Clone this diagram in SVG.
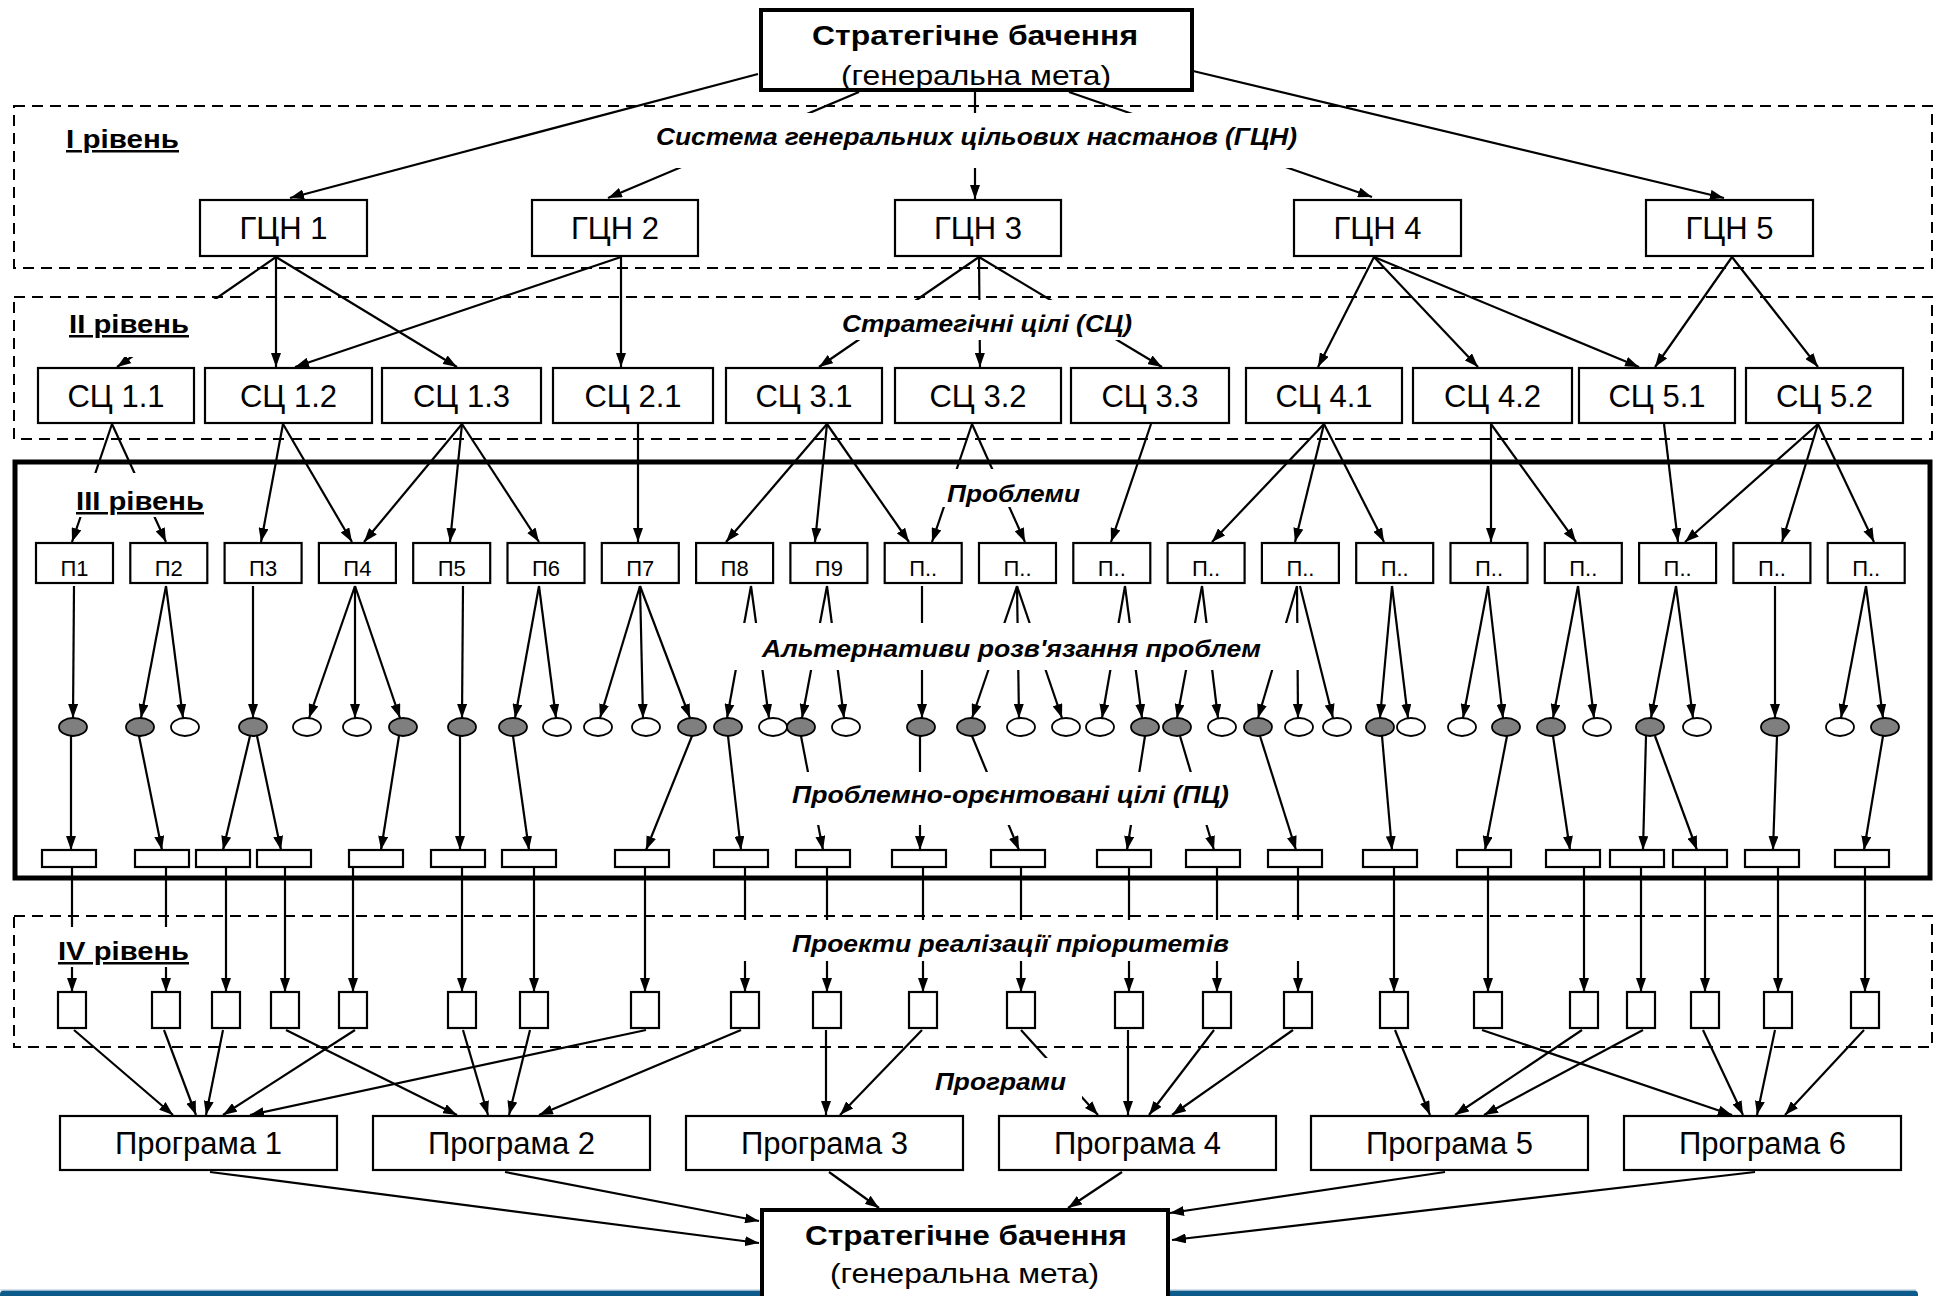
<svg xmlns="http://www.w3.org/2000/svg" width="1934" height="1296" viewBox="0 0 1934 1296">
<defs>
<style>
.t{font-family:"Liberation Sans",Arial,sans-serif;fill:#000}
.bx{fill:#fff;stroke:#000;stroke-width:2.2}
.tb{fill:#fff;stroke:#000;stroke-width:4}
.n{font-size:31px;text-anchor:middle}
.p{font-size:22px;text-anchor:middle}
.lv{font-size:25px;font-weight:bold;text-decoration:underline}
.it{font-size:24px;font-weight:bold;font-style:italic}
.dash{fill:none;stroke:#000;stroke-width:2;stroke-dasharray:11 7}
.c line{stroke:#000;stroke-width:2.2;marker-end:url(#ah)}
.g{fill:#7f7f7f;stroke:#000;stroke-width:1.8}
.w{fill:#fff;stroke:#000;stroke-width:1.8}
.m{fill:#fff;stroke:none}
</style>
<marker id="ah" viewBox="0 0 14 10" refX="14" refY="5" markerWidth="14" markerHeight="10" markerUnits="userSpaceOnUse" orient="auto"><path d="M0,0 L14,5 L0,10 z" fill="#000"/></marker>
</defs>
<rect width="1934" height="1296" fill="#fff"/>
<g id="footer">
<rect x="0" y="1290.5" width="1918" height="10" rx="4" fill="#0d5b8a"/>
<line x1="0" y1="1290" x2="1916" y2="1290" stroke="#a9c3d5" stroke-width="1"/>
</g>
<g id="containers">
<rect class="dash" x="14" y="106" width="1918" height="162"/>
<rect class="dash" x="14" y="297" width="1918" height="142"/>
<rect x="15" y="462" width="1915" height="416" fill="none" stroke="#000" stroke-width="5"/>
<rect class="dash" x="14" y="916" width="1918" height="131"/>
</g>
<g id="connectors" class="c">
<line x1="758" y1="74" x2="290" y2="198"/>
<line x1="859" y1="92" x2="608" y2="198"/>
<line x1="975" y1="92" x2="975" y2="199"/>
<line x1="1069" y1="92" x2="1372" y2="197"/>
<line x1="1193" y1="71" x2="1724" y2="198"/>
<line x1="276" y1="257" x2="117" y2="367"/>
<line x1="276" y1="257" x2="276" y2="367"/>
<line x1="276" y1="257" x2="457" y2="367"/>
<line x1="621" y1="257" x2="295" y2="367"/>
<line x1="621" y1="257" x2="621" y2="367"/>
<line x1="979" y1="257" x2="819" y2="367"/>
<line x1="979" y1="257" x2="980" y2="367"/>
<line x1="979" y1="257" x2="1162" y2="367"/>
<line x1="1374" y1="257" x2="1318" y2="367"/>
<line x1="1374" y1="257" x2="1478" y2="367"/>
<line x1="1374" y1="257" x2="1639" y2="367"/>
<line x1="1732" y1="257" x2="1655" y2="367"/>
<line x1="1732" y1="257" x2="1818" y2="367"/>
<line x1="112" y1="424" x2="72" y2="542"/>
<line x1="112" y1="424" x2="166" y2="542"/>
<line x1="283" y1="424" x2="261" y2="542"/>
<line x1="283" y1="424" x2="352" y2="542"/>
<line x1="462" y1="424" x2="364" y2="542"/>
<line x1="462" y1="424" x2="450" y2="542"/>
<line x1="462" y1="424" x2="539" y2="542"/>
<line x1="638" y1="424" x2="638" y2="542"/>
<line x1="827" y1="424" x2="726" y2="542"/>
<line x1="827" y1="424" x2="815" y2="542"/>
<line x1="827" y1="424" x2="909" y2="542"/>
<line x1="972" y1="424" x2="932" y2="542"/>
<line x1="972" y1="424" x2="1025" y2="542"/>
<line x1="1151" y1="424" x2="1111" y2="542"/>
<line x1="1324" y1="424" x2="1212" y2="542"/>
<line x1="1324" y1="424" x2="1295" y2="542"/>
<line x1="1324" y1="424" x2="1384" y2="542"/>
<line x1="1491" y1="424" x2="1491" y2="542"/>
<line x1="1491" y1="424" x2="1576" y2="542"/>
<line x1="1664" y1="424" x2="1678" y2="542"/>
<line x1="1818" y1="424" x2="1685" y2="542"/>
<line x1="1818" y1="424" x2="1782" y2="542"/>
<line x1="1818" y1="424" x2="1874" y2="542"/>
<line x1="74" y1="586" x2="73" y2="718"/>
<line x1="166" y1="586" x2="141" y2="718"/>
<line x1="166" y1="586" x2="183" y2="718"/>
<line x1="253" y1="586" x2="253" y2="718"/>
<line x1="355" y1="586" x2="309" y2="718"/>
<line x1="355" y1="586" x2="355" y2="718"/>
<line x1="355" y1="586" x2="400" y2="718"/>
<line x1="463" y1="586" x2="462" y2="718"/>
<line x1="539" y1="586" x2="515" y2="718"/>
<line x1="539" y1="586" x2="556" y2="718"/>
<line x1="640" y1="586" x2="600" y2="718"/>
<line x1="640" y1="586" x2="643" y2="718"/>
<line x1="640" y1="586" x2="690" y2="718"/>
<line x1="751" y1="586" x2="727" y2="718"/>
<line x1="751" y1="586" x2="769" y2="718"/>
<line x1="827" y1="586" x2="802" y2="718"/>
<line x1="827" y1="586" x2="844" y2="718"/>
<line x1="922" y1="586" x2="922" y2="718"/>
<line x1="1017" y1="586" x2="972" y2="718"/>
<line x1="1017" y1="586" x2="1019" y2="718"/>
<line x1="1017" y1="586" x2="1062" y2="718"/>
<line x1="1125" y1="586" x2="1102" y2="718"/>
<line x1="1125" y1="586" x2="1142" y2="718"/>
<line x1="1202" y1="586" x2="1177" y2="718"/>
<line x1="1202" y1="586" x2="1218" y2="718"/>
<line x1="1297" y1="586" x2="1258" y2="718"/>
<line x1="1297" y1="586" x2="1298" y2="718"/>
<line x1="1300" y1="586" x2="1333" y2="718"/>
<line x1="1392" y1="586" x2="1380" y2="718"/>
<line x1="1392" y1="586" x2="1408" y2="718"/>
<line x1="1488" y1="586" x2="1463" y2="718"/>
<line x1="1488" y1="586" x2="1503" y2="718"/>
<line x1="1578" y1="586" x2="1553" y2="718"/>
<line x1="1578" y1="586" x2="1594" y2="718"/>
<line x1="1676" y1="586" x2="1651" y2="718"/>
<line x1="1676" y1="586" x2="1693" y2="718"/>
<line x1="1775" y1="586" x2="1775" y2="718"/>
<line x1="1866" y1="586" x2="1841" y2="718"/>
<line x1="1866" y1="586" x2="1883" y2="718"/>
<line x1="71" y1="736" x2="71" y2="850"/>
<line x1="139" y1="736" x2="162" y2="850"/>
<line x1="250" y1="736" x2="223" y2="850"/>
<line x1="257" y1="736" x2="281" y2="850"/>
<line x1="399" y1="736" x2="381" y2="850"/>
<line x1="460" y1="736" x2="460" y2="850"/>
<line x1="513" y1="736" x2="529" y2="850"/>
<line x1="692" y1="736" x2="646" y2="850"/>
<line x1="728" y1="736" x2="741" y2="850"/>
<line x1="801" y1="736" x2="823" y2="850"/>
<line x1="920" y1="736" x2="920" y2="850"/>
<line x1="972" y1="736" x2="1019" y2="850"/>
<line x1="1145" y1="736" x2="1127" y2="850"/>
<line x1="1180" y1="736" x2="1214" y2="850"/>
<line x1="1260" y1="736" x2="1296" y2="850"/>
<line x1="1382" y1="736" x2="1392" y2="850"/>
<line x1="1507" y1="736" x2="1485" y2="850"/>
<line x1="1553" y1="736" x2="1570" y2="850"/>
<line x1="1646" y1="736" x2="1643" y2="850"/>
<line x1="1655" y1="736" x2="1697" y2="850"/>
<line x1="1777" y1="736" x2="1773" y2="850"/>
<line x1="1883" y1="736" x2="1864" y2="850"/>
<line x1="72" y1="867" x2="72" y2="992"/>
<line x1="166" y1="867" x2="166" y2="992"/>
<line x1="226" y1="867" x2="226" y2="992"/>
<line x1="285" y1="867" x2="285" y2="992"/>
<line x1="353" y1="867" x2="353" y2="992"/>
<line x1="462" y1="867" x2="462" y2="992"/>
<line x1="534" y1="867" x2="534" y2="992"/>
<line x1="645" y1="867" x2="645" y2="992"/>
<line x1="745" y1="867" x2="745" y2="992"/>
<line x1="827" y1="867" x2="827" y2="992"/>
<line x1="923" y1="867" x2="923" y2="992"/>
<line x1="1021" y1="867" x2="1021" y2="992"/>
<line x1="1129" y1="867" x2="1129" y2="992"/>
<line x1="1217" y1="867" x2="1217" y2="992"/>
<line x1="1298" y1="867" x2="1298" y2="992"/>
<line x1="1394" y1="867" x2="1394" y2="992"/>
<line x1="1488" y1="867" x2="1488" y2="992"/>
<line x1="1584" y1="867" x2="1584" y2="992"/>
<line x1="1641" y1="867" x2="1641" y2="992"/>
<line x1="1705" y1="867" x2="1705" y2="992"/>
<line x1="1778" y1="867" x2="1778" y2="992"/>
<line x1="1865" y1="867" x2="1865" y2="992"/>
<line x1="74" y1="1030" x2="173" y2="1115"/>
<line x1="164" y1="1030" x2="196" y2="1115"/>
<line x1="223" y1="1030" x2="206" y2="1115"/>
<line x1="286" y1="1030" x2="457" y2="1115"/>
<line x1="355" y1="1030" x2="223" y2="1115"/>
<line x1="463" y1="1030" x2="488" y2="1115"/>
<line x1="530" y1="1030" x2="509" y2="1115"/>
<line x1="646" y1="1030" x2="250" y2="1115"/>
<line x1="741" y1="1030" x2="539" y2="1115"/>
<line x1="826" y1="1030" x2="826" y2="1115"/>
<line x1="922" y1="1030" x2="840" y2="1115"/>
<line x1="1021" y1="1030" x2="1098" y2="1115"/>
<line x1="1128" y1="1030" x2="1128" y2="1115"/>
<line x1="1214" y1="1030" x2="1149" y2="1115"/>
<line x1="1293" y1="1030" x2="1172" y2="1115"/>
<line x1="1395" y1="1030" x2="1430" y2="1115"/>
<line x1="1482" y1="1030" x2="1732" y2="1115"/>
<line x1="1582" y1="1030" x2="1455" y2="1115"/>
<line x1="1643" y1="1030" x2="1484" y2="1115"/>
<line x1="1703" y1="1030" x2="1743" y2="1115"/>
<line x1="1775" y1="1030" x2="1757" y2="1115"/>
<line x1="1864" y1="1030" x2="1785" y2="1115"/>
<line x1="210" y1="1172" x2="759" y2="1243"/>
<line x1="505" y1="1172" x2="759" y2="1221"/>
<line x1="829" y1="1172" x2="879" y2="1208"/>
<line x1="1122" y1="1172" x2="1068" y2="1208"/>
<line x1="1445" y1="1172" x2="1170" y2="1213"/>
<line x1="1755" y1="1172" x2="1172" y2="1240"/>
</g>
<g id="labels">
<rect class="m" x="648" y="113" width="658" height="55"/>
<rect class="m" x="40" y="299" width="186" height="58"/>
<rect class="m" x="835" y="300" width="315" height="40"/>
<rect class="m" x="60" y="473" width="165" height="44"/>
<rect class="m" x="938" y="469" width="150" height="38"/>
<rect class="m" x="728" y="623" width="578" height="47"/>
<rect class="m" x="760" y="772" width="492" height="53"/>
<rect class="m" x="45" y="927" width="160" height="40"/>
<rect class="m" x="700" y="920" width="630" height="41"/>
<rect class="m" x="930" y="1058" width="152" height="42"/>
<text class="t lv" x="66" y="148" textLength="113" lengthAdjust="spacingAndGlyphs">I рівень</text>
<text class="t lv" x="69" y="333" textLength="120" lengthAdjust="spacingAndGlyphs">II рівень</text>
<text class="t lv" x="76" y="510" textLength="128" lengthAdjust="spacingAndGlyphs">III рівень</text>
<text class="t lv" x="58" y="960" textLength="131" lengthAdjust="spacingAndGlyphs">IV рівень</text>
<text class="t it" x="656" y="145" textLength="641" lengthAdjust="spacingAndGlyphs">Система генеральних цільових настанов (ГЦН)</text>
<text class="t it" x="842" y="332" textLength="290" lengthAdjust="spacingAndGlyphs">Стратегічні цілі (СЦ)</text>
<text class="t it" x="947" y="502" textLength="133" lengthAdjust="spacingAndGlyphs">Проблеми</text>
<text class="t it" x="762" y="657" textLength="499" lengthAdjust="spacingAndGlyphs">Альтернативи розв'язання проблем</text>
<text class="t it" x="792" y="803" textLength="437" lengthAdjust="spacingAndGlyphs">Проблемно-орєнтовані цілі (ПЦ)</text>
<text class="t it" x="792" y="952" textLength="437" lengthAdjust="spacingAndGlyphs">Проекти реалізації пріоритетів</text>
<text class="t it" x="935" y="1090" textLength="131" lengthAdjust="spacingAndGlyphs">Програми</text>
</g>
<g id="vision-top">
<rect class="tb" x="761" y="10" width="431" height="80"/>
<text class="t" x="812" y="45" font-size="28" font-weight="bold" textLength="326" lengthAdjust="spacingAndGlyphs">Стратегічне бачення</text>
<text class="t" x="841" y="85" font-size="28" textLength="270" lengthAdjust="spacingAndGlyphs">(генеральна мета)</text>
</g>
<g id="gcn1"><rect class="bx" x="200" y="200" width="167" height="56"/><text class="t n" x="283.5" y="239">ГЦН 1</text></g>
<g id="gcn2"><rect class="bx" x="532" y="200" width="166" height="56"/><text class="t n" x="615" y="239">ГЦН 2</text></g>
<g id="gcn3"><rect class="bx" x="895" y="200" width="166" height="56"/><text class="t n" x="978" y="239">ГЦН 3</text></g>
<g id="gcn4"><rect class="bx" x="1294" y="200" width="167" height="56"/><text class="t n" x="1377.5" y="239">ГЦН 4</text></g>
<g id="gcn5"><rect class="bx" x="1646" y="200" width="167" height="56"/><text class="t n" x="1729.5" y="239">ГЦН 5</text></g>
<g id="sc11"><rect class="bx" x="38" y="368" width="156" height="55"/><text class="t n" x="116" y="407">СЦ 1.1</text></g>
<g id="sc12"><rect class="bx" x="205" y="368" width="167" height="55"/><text class="t n" x="288.5" y="407">СЦ 1.2</text></g>
<g id="sc13"><rect class="bx" x="382" y="368" width="159" height="55"/><text class="t n" x="461.5" y="407">СЦ 1.3</text></g>
<g id="sc21"><rect class="bx" x="553" y="368" width="160" height="55"/><text class="t n" x="633" y="407">СЦ 2.1</text></g>
<g id="sc31"><rect class="bx" x="726" y="368" width="156" height="55"/><text class="t n" x="804" y="407">СЦ 3.1</text></g>
<g id="sc32"><rect class="bx" x="895" y="368" width="166" height="55"/><text class="t n" x="978" y="407">СЦ 3.2</text></g>
<g id="sc33"><rect class="bx" x="1071" y="368" width="158" height="55"/><text class="t n" x="1150" y="407">СЦ 3.3</text></g>
<g id="sc41"><rect class="bx" x="1246" y="368" width="156" height="55"/><text class="t n" x="1324" y="407">СЦ 4.1</text></g>
<g id="sc42"><rect class="bx" x="1413" y="368" width="159" height="55"/><text class="t n" x="1492.5" y="407">СЦ 4.2</text></g>
<g id="sc51"><rect class="bx" x="1579" y="368" width="156" height="55"/><text class="t n" x="1657" y="407">СЦ 5.1</text></g>
<g id="sc52"><rect class="bx" x="1746" y="368" width="157" height="55"/><text class="t n" x="1824.5" y="407">СЦ 5.2</text></g>
<g id="p1"><rect class="bx" x="36" y="543" width="77" height="40"/><text class="t p" x="74.5" y="576">П1</text></g>
<g id="p2"><rect class="bx" x="130.3" y="543" width="77" height="40"/><text class="t p" x="168.8" y="576">П2</text></g>
<g id="p3"><rect class="bx" x="224.6" y="543" width="77" height="40"/><text class="t p" x="263.1" y="576">П3</text></g>
<g id="p4"><rect class="bx" x="318.9" y="543" width="77" height="40"/><text class="t p" x="357.4" y="576">П4</text></g>
<g id="p5"><rect class="bx" x="413.2" y="543" width="77" height="40"/><text class="t p" x="451.7" y="576">П5</text></g>
<g id="p6"><rect class="bx" x="507.5" y="543" width="77" height="40"/><text class="t p" x="546" y="576">П6</text></g>
<g id="p7"><rect class="bx" x="601.8" y="543" width="77" height="40"/><text class="t p" x="640.3" y="576">П7</text></g>
<g id="p8"><rect class="bx" x="696.1" y="543" width="77" height="40"/><text class="t p" x="734.6" y="576">П8</text></g>
<g id="p9"><rect class="bx" x="790.4" y="543" width="77" height="40"/><text class="t p" x="828.9" y="576">П9</text></g>
<g id="p10"><rect class="bx" x="884.7" y="543" width="77" height="40"/><text class="t p" x="923.2" y="576">П..</text></g>
<g id="p11"><rect class="bx" x="979" y="543" width="77" height="40"/><text class="t p" x="1017.5" y="576">П..</text></g>
<g id="p12"><rect class="bx" x="1073.3" y="543" width="77" height="40"/><text class="t p" x="1111.8" y="576">П..</text></g>
<g id="p13"><rect class="bx" x="1167.6" y="543" width="77" height="40"/><text class="t p" x="1206.1" y="576">П..</text></g>
<g id="p14"><rect class="bx" x="1261.9" y="543" width="77" height="40"/><text class="t p" x="1300.4" y="576">П..</text></g>
<g id="p15"><rect class="bx" x="1356.2" y="543" width="77" height="40"/><text class="t p" x="1394.7" y="576">П..</text></g>
<g id="p16"><rect class="bx" x="1450.5" y="543" width="77" height="40"/><text class="t p" x="1489" y="576">П..</text></g>
<g id="p17"><rect class="bx" x="1544.8" y="543" width="77" height="40"/><text class="t p" x="1583.3" y="576">П..</text></g>
<g id="p18"><rect class="bx" x="1639.1" y="543" width="77" height="40"/><text class="t p" x="1677.6" y="576">П..</text></g>
<g id="p19"><rect class="bx" x="1733.4" y="543" width="77" height="40"/><text class="t p" x="1771.9" y="576">П..</text></g>
<g id="p20"><rect class="bx" x="1827.7" y="543" width="77" height="40"/><text class="t p" x="1866.2" y="576">П..</text></g>
<g id="alternatives">
<g id="a1"><ellipse class="g" cx="73" cy="727" rx="14" ry="9"/></g>
<g id="a2"><ellipse class="g" cx="140" cy="727" rx="14" ry="9"/></g>
<g id="a3"><ellipse class="w" cx="185" cy="727" rx="14" ry="9"/></g>
<g id="a4"><ellipse class="g" cx="253" cy="727" rx="14" ry="9"/></g>
<g id="a5"><ellipse class="w" cx="307" cy="727" rx="14" ry="9"/></g>
<g id="a6"><ellipse class="w" cx="357" cy="727" rx="14" ry="9"/></g>
<g id="a7"><ellipse class="g" cx="403" cy="727" rx="14" ry="9"/></g>
<g id="a8"><ellipse class="g" cx="462" cy="727" rx="14" ry="9"/></g>
<g id="a9"><ellipse class="g" cx="513" cy="727" rx="14" ry="9"/></g>
<g id="a10"><ellipse class="w" cx="557" cy="727" rx="14" ry="9"/></g>
<g id="a11"><ellipse class="w" cx="598" cy="727" rx="14" ry="9"/></g>
<g id="a12"><ellipse class="w" cx="646" cy="727" rx="14" ry="9"/></g>
<g id="a13"><ellipse class="g" cx="692" cy="727" rx="14" ry="9"/></g>
<g id="a14"><ellipse class="g" cx="728" cy="727" rx="14" ry="9"/></g>
<g id="a15"><ellipse class="w" cx="773" cy="727" rx="14" ry="9"/></g>
<g id="a16"><ellipse class="g" cx="801" cy="727" rx="14" ry="9"/></g>
<g id="a17"><ellipse class="w" cx="846" cy="727" rx="14" ry="9"/></g>
<g id="a18"><ellipse class="g" cx="921" cy="727" rx="14" ry="9"/></g>
<g id="a19"><ellipse class="g" cx="971" cy="727" rx="14" ry="9"/></g>
<g id="a20"><ellipse class="w" cx="1021" cy="727" rx="14" ry="9"/></g>
<g id="a21"><ellipse class="w" cx="1066" cy="727" rx="14" ry="9"/></g>
<g id="a22"><ellipse class="w" cx="1100" cy="727" rx="14" ry="9"/></g>
<g id="a23"><ellipse class="g" cx="1145" cy="727" rx="14" ry="9"/></g>
<g id="a24"><ellipse class="g" cx="1177" cy="727" rx="14" ry="9"/></g>
<g id="a25"><ellipse class="w" cx="1222" cy="727" rx="14" ry="9"/></g>
<g id="a26"><ellipse class="g" cx="1258" cy="727" rx="14" ry="9"/></g>
<g id="a27"><ellipse class="w" cx="1299" cy="727" rx="14" ry="9"/></g>
<g id="a28"><ellipse class="w" cx="1337" cy="727" rx="14" ry="9"/></g>
<g id="a29"><ellipse class="g" cx="1380" cy="727" rx="14" ry="9"/></g>
<g id="a30"><ellipse class="w" cx="1411" cy="727" rx="14" ry="9"/></g>
<g id="a31"><ellipse class="w" cx="1462" cy="727" rx="14" ry="9"/></g>
<g id="a32"><ellipse class="g" cx="1506" cy="727" rx="14" ry="9"/></g>
<g id="a33"><ellipse class="g" cx="1551" cy="727" rx="14" ry="9"/></g>
<g id="a34"><ellipse class="w" cx="1597" cy="727" rx="14" ry="9"/></g>
<g id="a35"><ellipse class="g" cx="1650" cy="727" rx="14" ry="9"/></g>
<g id="a36"><ellipse class="w" cx="1697" cy="727" rx="14" ry="9"/></g>
<g id="a37"><ellipse class="g" cx="1775" cy="727" rx="14" ry="9"/></g>
<g id="a38"><ellipse class="w" cx="1840" cy="727" rx="14" ry="9"/></g>
<g id="a39"><ellipse class="g" cx="1885" cy="727" rx="14" ry="9"/></g>
</g>
<g id="pc-goals">
<g id="pc1"><rect class="bx" x="42" y="850" width="54" height="17"/></g>
<g id="pc2"><rect class="bx" x="135" y="850" width="54" height="17"/></g>
<g id="pc3"><rect class="bx" x="196" y="850" width="54" height="17"/></g>
<g id="pc4"><rect class="bx" x="257" y="850" width="54" height="17"/></g>
<g id="pc5"><rect class="bx" x="349" y="850" width="54" height="17"/></g>
<g id="pc6"><rect class="bx" x="431" y="850" width="54" height="17"/></g>
<g id="pc7"><rect class="bx" x="502" y="850" width="54" height="17"/></g>
<g id="pc8"><rect class="bx" x="615" y="850" width="54" height="17"/></g>
<g id="pc9"><rect class="bx" x="714" y="850" width="54" height="17"/></g>
<g id="pc10"><rect class="bx" x="796" y="850" width="54" height="17"/></g>
<g id="pc11"><rect class="bx" x="892" y="850" width="54" height="17"/></g>
<g id="pc12"><rect class="bx" x="991" y="850" width="54" height="17"/></g>
<g id="pc13"><rect class="bx" x="1097" y="850" width="54" height="17"/></g>
<g id="pc14"><rect class="bx" x="1186" y="850" width="54" height="17"/></g>
<g id="pc15"><rect class="bx" x="1268" y="850" width="54" height="17"/></g>
<g id="pc16"><rect class="bx" x="1363" y="850" width="54" height="17"/></g>
<g id="pc17"><rect class="bx" x="1457" y="850" width="54" height="17"/></g>
<g id="pc18"><rect class="bx" x="1546" y="850" width="54" height="17"/></g>
<g id="pc19"><rect class="bx" x="1610" y="850" width="54" height="17"/></g>
<g id="pc20"><rect class="bx" x="1673" y="850" width="54" height="17"/></g>
<g id="pc21"><rect class="bx" x="1745" y="850" width="54" height="17"/></g>
<g id="pc22"><rect class="bx" x="1835" y="850" width="54" height="17"/></g>
</g>
<g id="projects">
<g id="pr1"><rect class="bx" x="58" y="992" width="28" height="36"/></g>
<g id="pr2"><rect class="bx" x="152" y="992" width="28" height="36"/></g>
<g id="pr3"><rect class="bx" x="212" y="992" width="28" height="36"/></g>
<g id="pr4"><rect class="bx" x="271" y="992" width="28" height="36"/></g>
<g id="pr5"><rect class="bx" x="339" y="992" width="28" height="36"/></g>
<g id="pr6"><rect class="bx" x="448" y="992" width="28" height="36"/></g>
<g id="pr7"><rect class="bx" x="520" y="992" width="28" height="36"/></g>
<g id="pr8"><rect class="bx" x="631" y="992" width="28" height="36"/></g>
<g id="pr9"><rect class="bx" x="731" y="992" width="28" height="36"/></g>
<g id="pr10"><rect class="bx" x="813" y="992" width="28" height="36"/></g>
<g id="pr11"><rect class="bx" x="909" y="992" width="28" height="36"/></g>
<g id="pr12"><rect class="bx" x="1007" y="992" width="28" height="36"/></g>
<g id="pr13"><rect class="bx" x="1115" y="992" width="28" height="36"/></g>
<g id="pr14"><rect class="bx" x="1203" y="992" width="28" height="36"/></g>
<g id="pr15"><rect class="bx" x="1284" y="992" width="28" height="36"/></g>
<g id="pr16"><rect class="bx" x="1380" y="992" width="28" height="36"/></g>
<g id="pr17"><rect class="bx" x="1474" y="992" width="28" height="36"/></g>
<g id="pr18"><rect class="bx" x="1570" y="992" width="28" height="36"/></g>
<g id="pr19"><rect class="bx" x="1627" y="992" width="28" height="36"/></g>
<g id="pr20"><rect class="bx" x="1691" y="992" width="28" height="36"/></g>
<g id="pr21"><rect class="bx" x="1764" y="992" width="28" height="36"/></g>
<g id="pr22"><rect class="bx" x="1851" y="992" width="28" height="36"/></g>
</g>
<g id="prog1"><rect class="bx" x="60" y="1116" width="277" height="54"/><text class="t n" x="198.5" y="1154">Програма 1</text></g>
<g id="prog2"><rect class="bx" x="373" y="1116" width="277" height="54"/><text class="t n" x="511.5" y="1154">Програма 2</text></g>
<g id="prog3"><rect class="bx" x="686" y="1116" width="277" height="54"/><text class="t n" x="824.5" y="1154">Програма 3</text></g>
<g id="prog4"><rect class="bx" x="999" y="1116" width="277" height="54"/><text class="t n" x="1137.5" y="1154">Програма 4</text></g>
<g id="prog5"><rect class="bx" x="1311" y="1116" width="277" height="54"/><text class="t n" x="1449.5" y="1154">Програма 5</text></g>
<g id="prog6"><rect class="bx" x="1624" y="1116" width="277" height="54"/><text class="t n" x="1762.5" y="1154">Програма 6</text></g>
<g id="vision-bottom">
<rect class="tb" x="762" y="1210" width="406" height="100"/>
<text class="t" x="805" y="1245" font-size="28" font-weight="bold" textLength="322" lengthAdjust="spacingAndGlyphs">Стратегічне бачення</text>
<text class="t" x="830" y="1283" font-size="28" textLength="269" lengthAdjust="spacingAndGlyphs">(генеральна мета)</text>
</g>
</svg>
